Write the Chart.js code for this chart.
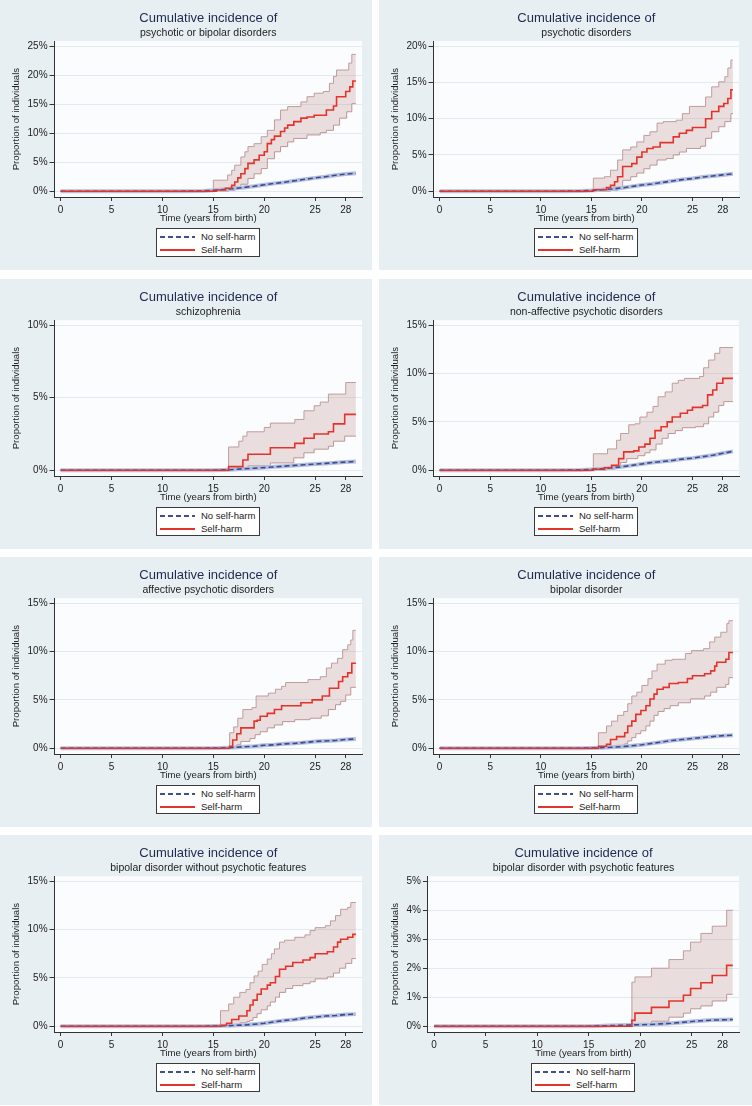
<!DOCTYPE html>
<html>
<head>
<meta charset="utf-8">
<script src="https://cdn.jsdelivr.net/npm/chart.js@4.4.1/dist/chart.umd.min.js"></script>
<style>
  body { margin: 0; background: #fff; }
  #figure { position: relative; width: 752px; height: 1106px; }
  .panel { position: absolute; background: #e8eff2; overflow: hidden; }
  .panel canvas { position: absolute; left: 0; top: 0; }
  .legend {
    position: absolute; width: 104px; height: 29px; box-sizing: border-box;
    border: 1px solid #3a3a3a; background: #fff;
    font: 9.5px "Liberation Sans", Arial, sans-serif; color: #222;
  }
  .legend .row { position: absolute; left: 0; right: 0; height: 13px; line-height: 13px; white-space: nowrap; }
  .legend .row.a { top: 1px; }
  .legend .row.b { top: 14px; }
  .legend .swatch { position: absolute; left: 3px; top: 6px; width: 35px; height: 2px; }
  .legend .swatch.dash { background: repeating-linear-gradient(90deg, #3f4f96 0 5px, transparent 5px 8px); }
  .legend .swatch.solid { background: #e3342b; height: 1.6px; }
  .legend .txt { position: absolute; left: 44px; }
</style>
</head>
<body>
<div id="figure"></div>
<script>
// ---- data (time in years, cumulative incidence in %) ----
const subtitles = [
    "psychotic or bipolar disorders",
    "psychotic disorders",
    "schizophrenia",
    "non-affective psychotic disorders",
    "affective psychotic disorders",
    "bipolar disorder",
    "bipolar disorder without psychotic features",
    "bipolar disorder with psychotic features"
];
const xTicks = [0, 5, 10, 15, 20, 25, 28];
const yTicks25 = [0, 5, 10, 15, 20, 25];
const yTicks20 = [0, 5, 10, 15, 20];
const yTicks15 = [0, 5, 10, 15];
const yTicks10 = [0, 5, 10];
const yTicks5 = [0, 1, 2, 3, 4, 5];

// psychotic or bipolar disorders
const est1 = [[0,0],[15.3,0.2],[16.2,0.5],[16.8,1.0],[17.1,1.6],[17.4,2.3],[17.7,3.0],[18.1,3.9],[18.4,4.8],[19.0,5.4],[19.5,6.2],[20.0,6.8],[20.3,8.2],[20.7,8.9],[21.0,9.5],[21.6,10.3],[22.0,10.9],[22.3,11.4],[22.9,12.0],[23.6,12.6],[24.2,12.8],[24.9,13.1],[26.1,14.0],[26.8,14.7],[27.1,16.3],[28.0,17.2],[28.4,18.0],[28.7,19.0],[29.0,19.0]];
const up1 = [[0,0],[15.0,1.9],[16.4,2.8],[16.8,3.6],[17.1,4.5],[17.7,5.9],[18.1,6.8],[18.4,7.7],[19.0,8.2],[19.7,9.4],[20.3,10.5],[21.0,12.3],[21.6,14.0],[22.3,14.6],[23.6,15.4],[24.2,16.3],[24.9,16.9],[25.8,17.2],[26.4,18.6],[26.8,19.8],[27.1,20.9],[28.3,22.1],[28.6,23.6],[29.0,23.6]];
const lo1 = [[0,0],[16.5,0.1],[17.1,0.5],[17.7,1.2],[18.4,2.2],[19.0,3.0],[19.7,3.9],[20.3,5.6],[21.0,6.8],[21.6,7.7],[22.3,8.5],[22.9,9.1],[24.2,9.7],[25.5,10.1],[26.1,10.5],[26.8,11.4],[27.4,12.6],[28.1,13.7],[28.6,15.1],[29.0,15.1]];
const nsh1 = [[0,0],[12,0],[14,0.05],[15,0.15],[16,0.3],[17,0.45],[18,0.65],[19,0.85],[20,1.1],[21,1.35],[22,1.55],[23,1.8],[24,2.05],[25,2.3],[26,2.5],[27,2.75],[28,2.95],[29,3.1]];

// psychotic disorders
const est2 = [[0,0],[15.2,0.2],[16.5,0.5],[16.9,0.8],[17.3,1.3],[17.6,2.0],[18.1,3.4],[19.0,3.8],[19.5,4.7],[20.0,5.4],[20.5,5.9],[21.1,6.1],[21.8,6.7],[23.1,7.5],[23.7,8.0],[24.4,8.4],[25.0,8.8],[26.3,10.0],[26.9,11.0],[27.6,11.7],[28.1,12.1],[28.5,12.8],[28.8,14.0],[29.0,14.0]];
const up2 = [[0,0],[15.2,1.8],[16.3,2.0],[16.9,2.9],[17.6,4.3],[18.1,5.7],[18.9,6.1],[19.5,6.8],[20.2,7.7],[20.8,8.2],[21.5,9.4],[22.1,9.6],[23.4,9.8],[24.0,10.7],[24.7,11.7],[26.3,13.0],[26.9,14.4],[27.6,15.1],[28.2,15.8],[28.5,17.0],[28.8,18.1],[29.0,18.1]];
const lo2 = [[0,0],[16.9,0.1],[17.6,0.6],[18.1,1.5],[18.9,2.0],[19.5,2.5],[20.2,3.1],[20.8,3.6],[21.5,4.3],[22.4,4.5],[23.1,5.0],[23.7,5.4],[24.4,5.9],[25.8,6.2],[26.3,7.3],[26.9,8.2],[27.6,8.9],[28.2,9.6],[28.8,10.7],[29.0,10.7]];
const nsh2 = [[0,0],[12,0],[14,0.04],[15,0.1],[16,0.2],[17,0.3],[18,0.45],[19,0.65],[20,0.85],[21,1.0],[22,1.2],[23,1.4],[24,1.6],[25,1.75],[26,1.95],[27,2.1],[28,2.25],[29,2.4]];

// schizophrenia
const est3 = [[0,0],[16.5,0.25],[17.9,0.7],[18.4,1.1],[20.6,1.55],[23.0,1.85],[23.9,2.2],[24.9,2.5],[26.3,2.65],[26.8,3.2],[27.9,3.85],[29.0,3.85]];
const up3 = [[0,0],[16.5,1.6],[17.5,2.0],[17.9,2.35],[18.3,2.65],[20.0,2.95],[20.6,3.25],[23.0,3.5],[23.9,4.1],[24.9,4.45],[25.5,4.7],[26.3,5.25],[28.0,6.05],[29.0,6.05]];
const lo3 = [[0,0],[17.9,0.1],[18.4,0.3],[20.6,0.5],[22.9,0.85],[23.9,1.2],[24.9,1.45],[26.3,1.65],[26.8,2.0],[27.9,2.35],[29.0,2.35]];
const nsh3 = [[0,0],[15,0],[16,0.02],[17,0.05],[18,0.1],[19,0.14],[20,0.18],[21,0.23],[22,0.28],[23,0.33],[24,0.38],[25,0.42],[26,0.47],[27,0.52],[28,0.56],[29,0.6]];

// non-affective psychotic disorders
const est4 = [[0,0],[15.2,0.1],[16.3,0.25],[17.0,0.5],[17.7,1.2],[18.2,1.9],[19.2,2.0],[19.7,2.4],[20.3,2.7],[20.8,3.3],[21.3,4.1],[21.9,4.5],[22.5,5.0],[23.0,5.5],[23.8,5.9],[24.5,6.2],[25.0,6.5],[26.0,6.7],[26.5,7.8],[27.0,8.3],[27.4,9.0],[28.0,9.5],[29.0,9.5]];
const up4 = [[0,0],[15.2,1.7],[16.6,2.2],[17.5,3.1],[17.9,3.8],[18.7,4.7],[19.3,4.8],[19.8,5.5],[20.5,6.0],[21.1,6.6],[21.6,7.6],[22.3,8.1],[23.0,9.0],[23.6,9.3],[24.2,9.5],[25.7,9.7],[26.1,10.6],[26.6,11.4],[27.2,12.1],[27.7,12.7],[29.0,12.7]];
const lo4 = [[0,0],[16.5,0.1],[17.3,0.3],[17.9,0.8],[18.5,1.2],[19.6,1.5],[20.3,1.8],[20.8,2.1],[21.4,2.7],[22.0,3.3],[22.6,3.8],[23.3,4.1],[24.0,4.4],[25.3,4.5],[26.1,4.8],[26.6,5.5],[27.1,6.0],[27.6,6.7],[28.1,7.1],[29.0,7.1]];
const nsh4 = [[0,0],[12,0],[14,0.03],[15,0.08],[16,0.15],[17,0.25],[18,0.35],[19,0.5],[20,0.65],[21,0.8],[22,0.9],[23,1.0],[24,1.15],[25,1.25],[26,1.4],[27,1.55],[28,1.75],[29,1.95]];

// affective psychotic disorders
const est5 = [[0,0],[16.6,0.2],[16.9,0.85],[17.3,1.5],[17.7,2.1],[19.0,2.8],[19.3,2.9],[19.6,3.3],[20.3,3.6],[21.0,4.0],[21.7,4.4],[23.6,4.7],[24.7,5.0],[25.7,5.4],[26.4,6.2],[27.3,6.9],[27.7,7.4],[28.2,7.8],[28.6,8.8],[29.0,8.8]];
const up5 = [[0,0],[16.6,1.6],[17.0,2.2],[17.4,3.1],[17.9,4.0],[18.8,4.2],[19.2,5.4],[20.4,5.7],[21.1,6.1],[21.7,6.4],[22.1,6.8],[24.3,7.1],[25.5,7.4],[26.1,8.3],[26.6,8.8],[27.2,9.3],[27.7,10.2],[28.2,10.7],[28.5,11.2],[28.7,12.2],[29.0,12.2]];
const lo5 = [[0,0],[17.0,0.1],[17.3,0.35],[17.7,0.7],[18.6,1.0],[19.1,1.4],[19.6,1.7],[20.3,2.1],[21.0,2.4],[21.8,2.75],[23.0,2.95],[24.5,3.1],[25.6,3.35],[26.3,4.0],[27.0,4.5],[27.5,4.85],[28.0,5.5],[28.5,6.3],[29.0,6.3]];
const nsh5 = [[0,0],[14,0],[15.5,0.02],[17,0.08],[18,0.15],[19,0.2],[20,0.3],[21,0.35],[22,0.45],[23,0.5],[24,0.6],[25,0.7],[26,0.75],[27,0.8],[28,0.9],[29,0.95]];

// bipolar disorder
const est6 = [[0,0],[15.7,0.2],[16.5,0.4],[16.9,0.9],[17.5,1.2],[18.3,1.6],[18.6,2.3],[19.0,2.8],[19.4,3.5],[19.9,3.9],[20.4,4.4],[20.8,5.1],[21.2,5.6],[21.5,6.1],[22.1,6.3],[22.7,6.7],[23.6,6.8],[24.5,7.2],[25.0,7.5],[26.2,7.7],[26.8,8.0],[27.2,8.5],[27.4,8.9],[28.3,9.2],[28.6,9.9],[29.0,9.9]];
const up6 = [[0,0],[15.7,1.6],[16.5,2.3],[17.0,2.8],[17.6,3.4],[18.2,3.8],[18.6,4.6],[19.0,5.4],[19.5,5.8],[20.0,6.5],[20.6,7.2],[21.0,8.0],[21.5,8.7],[22.3,9.1],[23.0,9.2],[24.3,9.8],[24.9,10.1],[26.1,10.3],[26.7,11.0],[27.2,11.5],[27.8,12.0],[28.4,12.9],[28.6,13.2],[29.0,13.2]];
const lo6 = [[0,0],[16.5,0.05],[16.9,0.2],[17.5,0.3],[18.3,0.45],[18.6,0.75],[19.0,1.1],[19.4,1.5],[19.9,1.8],[20.4,2.3],[20.8,2.8],[21.2,3.4],[21.6,3.8],[22.2,4.1],[22.8,4.4],[23.6,4.7],[24.8,5.1],[26.2,5.4],[26.8,5.8],[27.4,6.3],[28.3,6.6],[28.6,7.3],[29.0,7.3]];
const nsh6 = [[0,0],[14,0],[15,0.02],[16,0.05],[17,0.1],[18,0.15],[19,0.25],[20,0.35],[21,0.5],[22,0.65],[23,0.8],[24,0.9],[25,1.0],[26,1.1],[27,1.2],[28,1.3],[29,1.35]];

// bipolar disorder without psychotic features
const est7 = [[0,0],[15.7,0.1],[16.3,0.3],[16.8,0.7],[17.5,1.05],[18.3,1.6],[18.6,2.2],[18.9,2.7],[19.3,3.3],[19.7,3.85],[20.3,4.25],[20.6,4.5],[21.1,5.15],[21.5,5.9],[22.1,6.2],[22.8,6.6],[23.8,6.85],[24.5,7.1],[25.0,7.5],[26.2,7.7],[26.8,8.2],[27.2,8.7],[27.5,9.0],[28.2,9.2],[28.7,9.5],[29.0,9.5]];
const up7 = [[0,0],[15.7,1.6],[16.5,2.3],[17.0,3.0],[17.6,3.5],[18.2,3.8],[18.6,4.5],[19.0,5.2],[19.4,5.7],[19.8,6.4],[20.3,6.95],[20.7,7.5],[21.0,8.0],[21.5,8.7],[22.0,8.9],[23.0,9.2],[24.0,9.45],[24.5,9.9],[25.0,10.2],[26.0,10.4],[26.5,10.9],[27.0,11.45],[27.5,12.1],[28.2,12.3],[28.5,12.8],[29.0,12.8]];
const lo7 = [[0,0],[16.5,0.05],[17.0,0.15],[17.6,0.35],[18.3,0.5],[18.6,0.6],[18.9,0.9],[19.3,1.3],[19.7,1.7],[20.3,2.1],[20.6,2.5],[21.1,3.0],[21.5,3.5],[22.1,3.9],[22.8,4.2],[23.8,4.4],[24.5,4.6],[25.0,4.9],[26.2,5.1],[26.8,5.5],[27.4,6.0],[28.0,6.5],[28.6,7.0],[29.0,7.0]];
const nsh7 = [[0,0],[14,0],[15,0.02],[16,0.04],[17,0.08],[18,0.12],[19,0.2],[20,0.3],[21,0.45],[22,0.6],[23,0.7],[24,0.85],[25,0.95],[26,1.05],[27,1.1],[28,1.2],[29,1.25]];

// bipolar disorder with psychotic features
const est8 = [[0,0],[19.2,0.2],[19.5,0.45],[21.1,0.65],[22.8,0.87],[24.2,1.07],[24.9,1.3],[25.9,1.5],[27.0,1.75],[28.4,2.1],[29.0,2.1]];
const up8 = [[0,0],[19.2,1.52],[19.5,1.7],[21.1,2.0],[22.8,2.3],[24.2,2.6],[24.9,2.9],[25.9,3.2],[27.0,3.45],[28.4,4.0],[29.0,4.0]];
const lo8 = [[0,0],[19.5,0.04],[21.1,0.17],[22.8,0.31],[24.2,0.45],[24.9,0.6],[25.9,0.7],[27.0,0.87],[28.4,1.1],[29.0,1.1]];
const nsh8 = [[0,0],[15,0],[16,0.01],[17,0.02],[18,0.03],[19,0.04],[20,0.05],[21,0.06],[22,0.08],[23,0.1],[24,0.13],[25,0.16],[26,0.19],[27,0.21],[28,0.22],[29,0.23]];

const panels = [
    { est: est1, up: up1, lo: lo1, nsh: nsh1, yTicks: yTicks25 },
    { est: est2, up: up2, lo: lo2, nsh: nsh2, yTicks: yTicks20 },
    { est: est3, up: up3, lo: lo3, nsh: nsh3, yTicks: yTicks10 },
    { est: est4, up: up4, lo: lo4, nsh: nsh4, yTicks: yTicks15 },
    { est: est5, up: up5, lo: lo5, nsh: nsh5, yTicks: yTicks15 },
    { est: est6, up: up6, lo: lo6, nsh: nsh6, yTicks: yTicks15 },
    { est: est7, up: up7, lo: lo7, nsh: nsh7, yTicks: yTicks15 },
    { est: est8, up: up8, lo: lo8, nsh: nsh8, yTicks: yTicks5 }
];

// ---- styling ----
const FONT = '"Liberation Sans", Arial, Helvetica, sans-serif';
const RED = '#e3342b';
const NAVY = '#3a4a94';
const NAVY_CI = '#b5c0de';
const CI_LINE = '#bf9d9d';
const CI_FILL = 'rgba(170, 100, 100, 0.2)';
const INK = '#222';

const colLeft = [0, 379];
const colWidth = [372, 373];
const rowTop = [0, 279, 557, 835];
const panelHeight = 270;

Chart.defaults.font.family = FONT;

const plotBg = {
    id: 'plotBg',
    beforeDraw(chart) {
        const { ctx, chartArea: a } = chart;
        ctx.save();
        ctx.fillStyle = '#fbfcfd';
        ctx.fillRect(a.left, a.top, a.width, a.height);
        ctx.restore();
    }
};

const pts = arr => arr.map(([x, y]) => ({ x, y }));

function makePanel(i) {
    const p = panels[i];
    const col = i % 2, row = Math.floor(i / 2);
    const w = colWidth[col];

    const div = document.createElement('div');
    div.className = 'panel';
    div.style.left = colLeft[col] + 'px';
    div.style.top = rowTop[row] + 'px';
    div.style.width = w + 'px';
    div.style.height = panelHeight + 'px';

    const canvas = document.createElement('canvas');
    canvas.width = w;
    canvas.height = panelHeight;
    div.appendChild(canvas);
    document.getElementById('figure').appendChild(div);

    const top = p.yTicks[p.yTicks.length - 1];

    const chart = new Chart(canvas.getContext('2d'), {
        type: 'line',
        data: {
            datasets: [
                { label: 'Self-harm', data: pts(p.est), borderColor: RED, borderWidth: 1.6,
                  stepped: 'before', pointRadius: 0, fill: false },
                { label: 'No self-harm', data: pts(p.nsh), borderColor: NAVY, borderWidth: 1.6,
                  borderDash: [5, 3], pointRadius: 0, fill: false },
                { label: 'No self-harm CI', data: pts(p.nsh), borderColor: NAVY_CI, borderWidth: 4,
                  pointRadius: 0, fill: false },
                { label: 'Self-harm upper CI', data: pts(p.up), borderColor: CI_LINE, borderWidth: 1,
                  stepped: 'before', pointRadius: 0, fill: '+1', backgroundColor: CI_FILL },
                { label: 'Self-harm lower CI', data: pts(p.lo), borderColor: CI_LINE, borderWidth: 1,
                  stepped: 'before', pointRadius: 0, fill: false }
            ]
        },
        options: {
            responsive: false,
            animation: false,
            events: [],
            layout: { padding: { left: 11, right: col === 0 ? 10 : 13, top: 0, bottom: 46 } },
            plugins: {
                legend: { display: false },
                tooltip: { enabled: false },
                title: {
                    display: true, fullSize: false, text: 'Cumulative incidence of',
                    color: '#1e2b4f', font: { size: 13, weight: 'normal' },
                    padding: { top: 11, bottom: 0 }
                },
                subtitle: {
                    display: true, fullSize: false, text: subtitles[i],
                    color: INK, font: { size: 10.5 },
                    padding: { top: 0, bottom: 2 }
                }
            },
            scales: {
                x: {
                    type: 'linear', min: -0.6, max: 29.6,
                    afterBuildTicks: s => { s.ticks = xTicks.map(v => ({ value: v })); },
                    afterFit: s => { s.height = 27; },
                    ticks: { color: INK, font: { size: 10 }, padding: 3, maxRotation: 0, autoSkip: false },
                    grid: { drawOnChartArea: false, tickColor: '#333', tickLength: 4 },
                    border: { color: '#333', width: 1 },
                    title: { display: true, text: 'Time (years from birth)', color: INK,
                             font: { size: 9.6 }, padding: 0 }
                },
                y: {
                    min: -0.04 * top, max: 1.035 * top,
                    afterBuildTicks: s => { s.ticks = p.yTicks.map(v => ({ value: v })); },
                    ticks: { color: INK, font: { size: 10 }, padding: 2, callback: v => v + '%' },
                    grid: { color: '#e3eaee', tickColor: '#333', tickLength: 5 },
                    border: { color: '#333', width: 1 },
                    title: { display: true, text: 'Proportion of individuals', color: INK,
                             font: { size: 9.6 }, padding: { top: 0, bottom: 3 } }
                }
            }
        },
        plugins: [plotBg]
    });

    // legend box centred under the plot region
    const a = chart.chartArea;
    const lg = document.createElement('div');
    lg.className = 'legend';
    lg.style.left = Math.round((a.left + a.right) / 2 - 52) + 'px';
    lg.style.top = '228px';
    lg.innerHTML =
        '<div class="row a"><span class="swatch dash"></span><span class="txt">No self-harm</span></div>' +
        '<div class="row b"><span class="swatch solid"></span><span class="txt">Self-harm</span></div>';
    div.appendChild(lg);
}

panels.forEach((_, i) => makePanel(i));
</script>
</body>
</html>
